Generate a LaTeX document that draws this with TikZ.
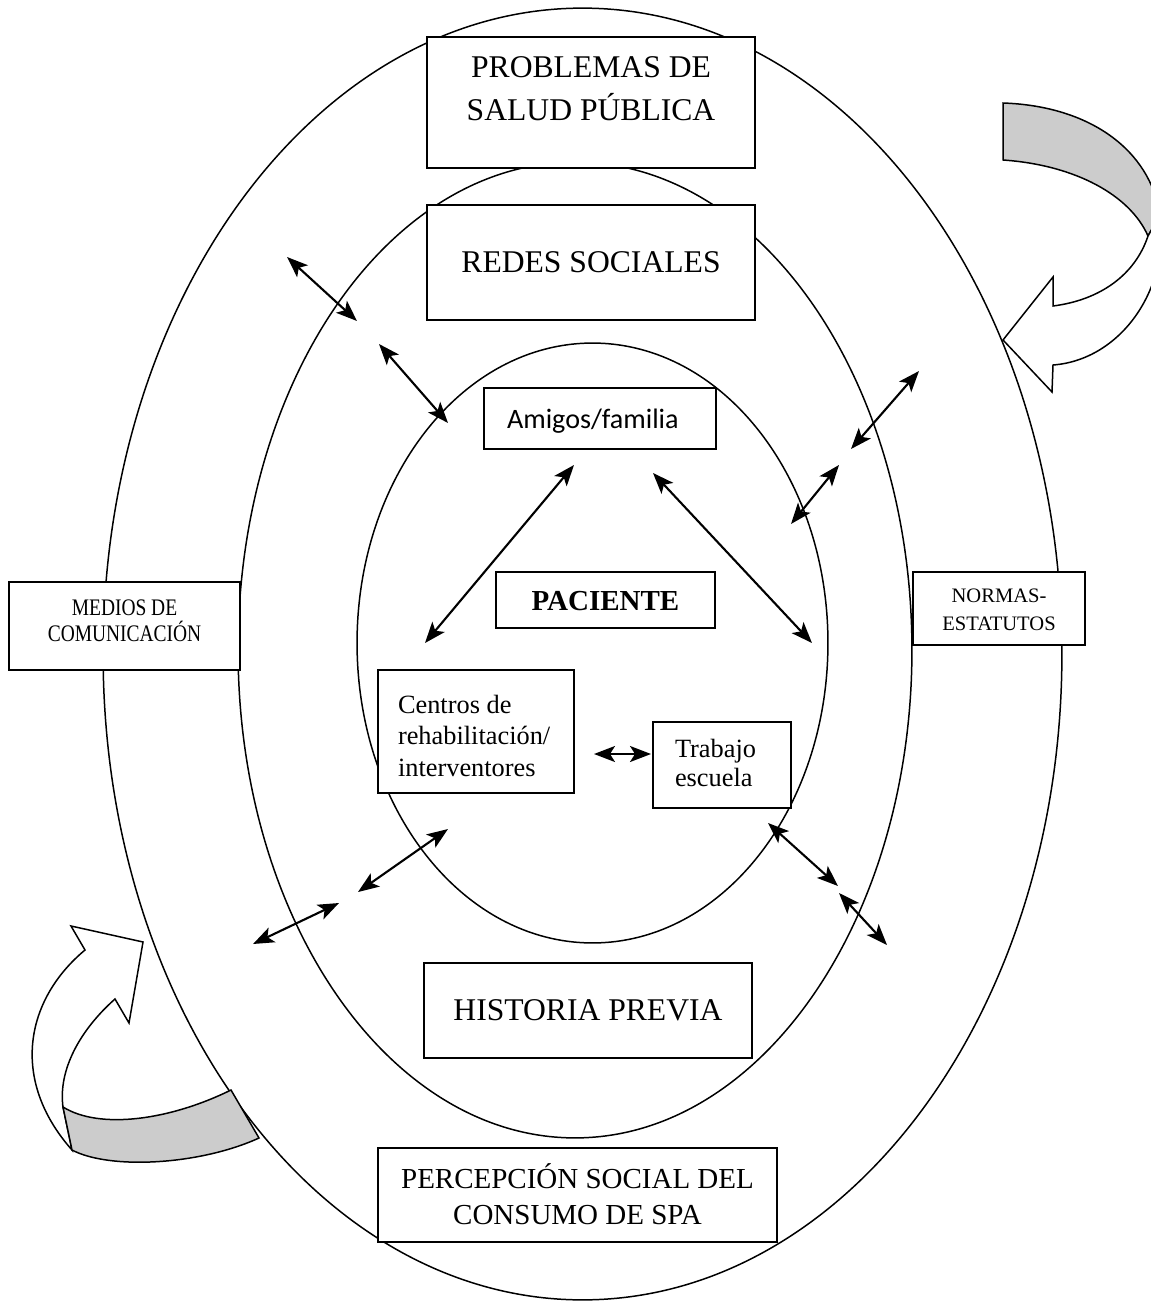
\documentclass[tikz,border=0pt]{standalone}
\usepackage{fontspec}
\setmainfont{Liberation Serif}
\newfontfamily\calibrifont{Carlito}
\newfontfamily\narrowfont{Liberation Serif}[FakeStretch=0.82]
\usetikzlibrary{arrows.meta}
\definecolor{bandgray}{gray}{0.8}
% fixed-size text block: width, height, first baseline below top, content
\newcommand\boxtext[4]{\parbox[c][#2][t]{#1}{\rule{0pt}{#3}#4}}

\begin{document}
\begin{tikzpicture}[x=0.02cm,y=-0.02cm,
  ring/.style={line width=0.85pt},
  box/.style={draw, fill=white, line width=1pt, inner sep=0pt},
  link/.style={line width=1.2pt,
    {Stealth[length=0.42cm,width=0.32cm,inset=0.1cm]}-{Stealth[length=0.42cm,width=0.32cm,inset=0.1cm]}},
  band/.style={draw, line width=0.85pt, line join=miter}]
\useasboundingbox (0,0) rectangle (1151,1308);

% three nested rings
\draw[ring] (582.5,654) ellipse [x radius=9.59cm, y radius=12.92cm];
\draw[ring] (575,650) ellipse [x radius=6.74cm, y radius=9.76cm];
\draw[ring] (592.5,643) ellipse [x radius=4.71cm, y radius=6cm];

% curved arrow, upper right
\filldraw[band, fill=bandgray] (1003,103) .. controls (1090,106) and (1150,150) .. (1160,215)
  -- (1148,236) .. controls (1130,195) and (1075,165) .. (1003,160) -- cycle;
\filldraw[band, fill=white] (1160,215) .. controls (1170,290) and (1120,360) .. (1053,365)
  -- (1052,392) -- (1003,340) -- (1053,277) -- (1053,306)
  .. controls (1100,300) and (1135,275) .. (1148,236) -- cycle;

% curved arrow, lower left
\filldraw[band, fill=white] (85,950) -- (71,926) -- (143,942) -- (129,1023) -- (115,999)
  .. controls (80,1030) and (58,1070) .. (63,1107) -- (72,1150)
  .. controls (10,1080) and (25,1000) .. (85,950) -- cycle;
\filldraw[band, fill=bandgray] (63,1107) .. controls (100,1130) and (170,1120) .. (231,1090)
  -- (259,1138) .. controls (200,1165) and (110,1170) .. (72,1150) -- cycle;

% boxes
\node[box] (salud) at (591,102.5) {\boxtext{6.56cm}{2.62cm}{0.8cm}{\centering\fontsize{18}{24.5}\selectfont PROBLEMAS DE\\SALUD PÚBLICA}};
\node[box] (redes) at (591,262.5) {\boxtext{6.56cm}{2.3cm}{1.36cm}{\centering\fontsize{18}{24.5}\selectfont REDES SOCIALES}};
\node[box] (amigos) at (600,418.5) {\boxtext{4.64cm}{1.22cm}{0.8cm}{\hspace*{0.46cm}\calibrifont\fontsize{16}{19}\selectfont Amigos/familia}};
\node[box] (paciente) at (605.5,600) {\boxtext{4.38cm}{1.12cm}{0.76cm}{\centering\bfseries\fontsize{16.5}{20}\selectfont PACIENTE}};
\node[box] (medios) at (124.5,626) {\boxtext{4.62cm}{1.76cm}{0.66cm}{\centering\narrowfont\fontsize{13.5}{15}\selectfont MEDIOS DE\\COMUNICACIÓN}};
\node[box] (normas) at (999,608.5) {\boxtext{3.44cm}{1.46cm}{0.6cm}{\centering\fontsize{11.7}{16}\selectfont NORMAS-\\ESTATUTOS}};
\node[box] (centros) at (476,731.5) {\boxtext{3.92cm}{2.46cm}{0.86cm}{\raggedright\leftskip=0.4cm\fontsize{15}{18.2}\selectfont Centros de\\rehabilitación/\\interventores}};
\node[box] (trabajo) at (722,765) {\boxtext{2.76cm}{1.72cm}{0.7cm}{\raggedright\leftskip=0.44cm\fontsize{15}{17}\selectfont Trabajo\\escuela}};
\node[box] (historia) at (588,1010.5) {\boxtext{6.56cm}{1.9cm}{1.14cm}{\centering\fontsize{18}{24.5}\selectfont HISTORIA PREVIA}};
\node[box] (percepcion) at (577.5,1195) {\boxtext{7.98cm}{1.88cm}{0.8cm}{\centering\fontsize{16.5}{21}\selectfont PERCEPCIÓN SOCIAL DEL\\CONSUMO DE SPA}};

% ends of the double arrows
\coordinate (a1) at (287,257);  \coordinate (b1) at (357,321);
\coordinate (a2) at (379,344);  \coordinate (b2) at (448,423);
\coordinate (a3) at (574,465);  \coordinate (b3) at (425,643);
\coordinate (a4) at (653,473);  \coordinate (b4) at (812,643);
\coordinate (a5) at (919,371);  \coordinate (b5) at (851,449);
\coordinate (a6) at (839,465);  \coordinate (b6) at (791,524);
\coordinate (a7) at (594,754);  \coordinate (b7) at (651,754);
\coordinate (a8) at (448,829);  \coordinate (b8) at (358,892);
\coordinate (a9) at (339,903);  \coordinate (b9) at (253,944);
\coordinate (a10) at (768,823); \coordinate (b10) at (838,886);
\coordinate (a11) at (839,893); \coordinate (b11) at (887,945);

\foreach \i in {1,...,11} \draw[link] (a\i) -- (b\i);
\end{tikzpicture}
\end{document}
